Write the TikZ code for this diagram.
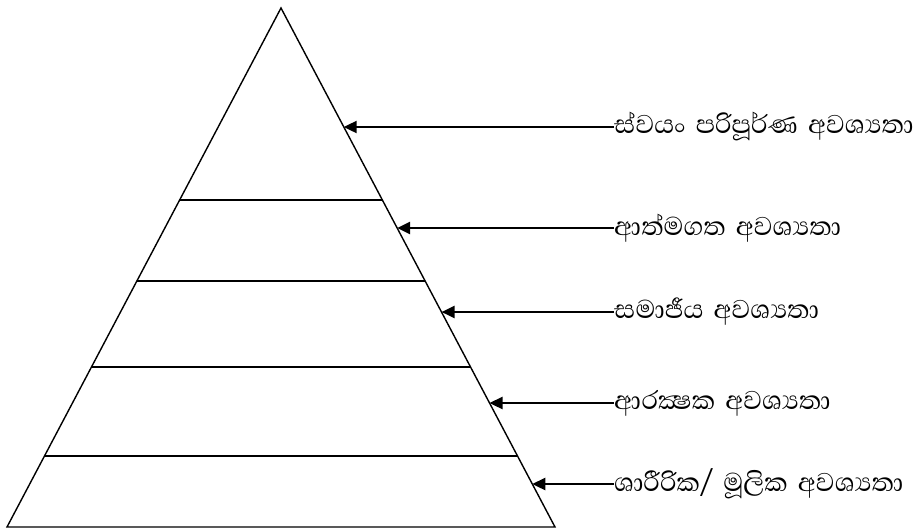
\documentclass[tikz,border=0pt]{standalone}
\usepackage{fontspec}
\newfontfamily\sinhala[Script=Sinhala,WordSpace=1.6]{Abhaya Libre}
\usetikzlibrary{arrows.meta,calc}
\begin{document}
\begin{tikzpicture}[x=1pt,y=-1pt,
  edge/.style={line width=1.4pt},
  level/.style={line width=1.4pt},
  pointer/.style={line width=2.4pt,-{Triangle[length=13pt,width=12pt]}},
  label/.style={anchor=west,inner sep=0pt,font=\sinhala\fontsize{33}{38}\selectfont}]
\useasboundingbox (0,0) rectangle (922,528);
\coordinate (A) at (281,8);
\coordinate (L) at (7,527);
\coordinate (R) at (555,527);
\draw[edge] (L) -- (A) -- (R) -- cycle;
\foreach \t/\n in {0.370/1,0.526/2,0.692/3,0.863/4}{
  \draw[level] ($(A)!\t!(L)$) -- ($(A)!\t!(R)$);
}
\coordinate (e1) at ($(A)!0.229!(R)$);
\coordinate (e2) at ($(A)!0.424!(R)$);
\coordinate (e3) at ($(A)!0.586!(R)$);
\coordinate (e4) at ($(A)!0.761!(R)$);
\coordinate (e5) at ($(A)!0.917!(R)$);
\node[label] (t1) at (614,127) {ස්වයං පරිපූර්ණ අවශ්‍යතා};
\node[label] (t2) at (614,228) {ආත්මගත අවශ්‍යතා};
\node[label] (t3) at (614,312) {සමාජීය අවශ්‍යතා};
\node[label] (t4) at (614,403) {ආරක්‍ෂක අවශ්‍යතා};
\node[label] (t5) at (614,484) {ශාරීරික/ මූලික අවශ්‍යතා};
\draw[pointer] (t1.west) -- (e1 |- t1.west);
\draw[pointer] (t2.west) -- (e2 |- t2.west);
\draw[pointer] (t3.west) -- (e3 |- t3.west);
\draw[pointer] (t4.west) -- (e4 |- t4.west);
\draw[pointer] (t5.west) -- (e5 |- t5.west);
\end{tikzpicture}
\end{document}
